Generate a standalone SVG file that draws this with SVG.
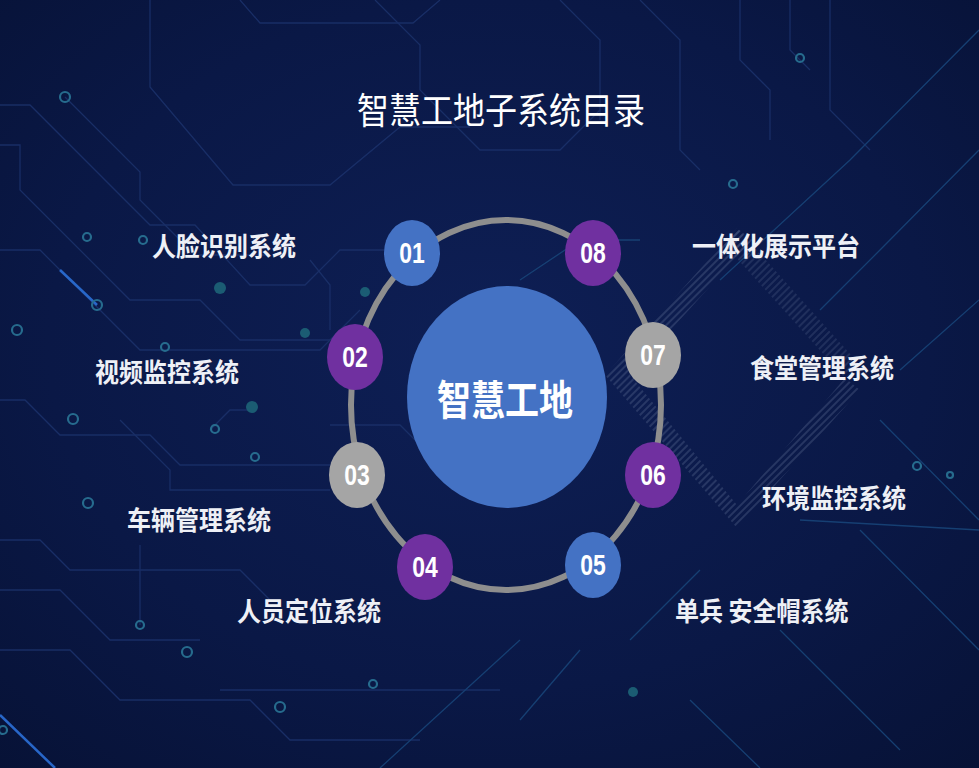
<svg xmlns="http://www.w3.org/2000/svg" width="979" height="768" viewBox="0 0 979 768">
<defs>
<radialGradient id="bg" cx="50%" cy="45%" r="75%">
<stop offset="0" stop-color="#0e1f55"/>
<stop offset="0.6" stop-color="#0a1846"/>
<stop offset="1" stop-color="#071236"/>
</radialGradient>
<linearGradient id="glow" x1="0" y1="0" x2="1" y2="0">
<stop offset="0" stop-color="#2b7fe0" stop-opacity="0"/>
<stop offset="0.5" stop-color="#3a8ff0" stop-opacity="0.9"/>
<stop offset="1" stop-color="#2b7fe0" stop-opacity="0.3"/>
</linearGradient>
<pattern id="hatch" width="5" height="5" patternUnits="userSpaceOnUse" patternTransform="rotate(45)">
<rect width="2" height="5" fill="#5a6a90"/>
</pattern>
<style>
.ckt{fill:none;stroke:#1b316a;stroke-width:1.3}
.ckt2{fill:none;stroke:#184478;stroke-width:1.3}
.glw{fill:none;stroke:url(#glow);stroke-width:3;stroke-linecap:round}
.dot{fill:none;stroke:#2a7596;stroke-width:2.2}
.dotf{fill:#1d6478}
.ring{fill:none;stroke:#8e8e8e;stroke-width:6}
.blue{fill:#4472c4}
.purple{fill:#7030a0}
.gray{fill:#a5a5a5}
.num{font-family:"Liberation Sans",Arial,sans-serif;font-weight:bold;font-size:28px;fill:#ffffff;text-anchor:middle}
.lbl{font-family:"Noto Sans CJK SC","Noto Sans CJK TC",sans-serif;font-weight:bold;font-size:24px;fill:#eef0f6}
.title{font-family:"Noto Sans CJK SC","Noto Sans CJK TC",sans-serif;font-weight:normal;font-size:32px;fill:#ffffff;text-anchor:middle}
.center{font-family:"Noto Sans CJK SC","Noto Sans CJK TC",sans-serif;font-weight:bold;font-size:34px;fill:#ffffff;text-anchor:middle}
</style>
</defs>
<rect width="979" height="768" fill="url(#bg)"/>
<g id="background-circuit" opacity="0.9">
<polyline class="ckt" points="150,0 150,87 233,185 330,185 400,127 470,127"/>
<polyline class="ckt" points="240,0 260,23 413,23 440,0"/>
<polyline class="ckt" points="0,105 30,105 150,225 195,225 250,285 305,285 340,250 420,250"/>
<polyline class="ckt" points="0,145 20,145 20,190 130,300 200,300 240,340 330,340"/>
<polyline class="ckt" points="0,250 40,250 140,350 320,350 360,310"/>
<polyline class="ckt" points="65,97 140,172 140,200 195,255 270,255"/>
<polyline class="ckt" points="375,0 420,45 420,90 480,150 560,150 600,110"/>
<polyline class="ckt" points="310,260 330,285 330,330"/>
<polyline class="ckt" points="0,400 25,400 60,435 150,435 180,465 330,465"/>
<polyline class="ckt" points="120,420 170,470 170,490 330,490"/>
<polyline class="ckt" points="0,540 40,540 70,570 240,570 270,600"/>
<polyline class="ckt" points="0,590 60,590 110,640 200,640"/>
<polyline class="ckt" points="0,650 70,650 120,700 250,700 290,740 420,740"/>
<polyline class="ckt" points="140,545 140,625"/>
<polyline class="ckt" points="210,430 230,410 250,410"/>
<polyline class="ckt" points="330,425 400,425 420,445"/>
<polyline class="ckt" points="220,690 500,690"/>
<polyline class="ckt" points="560,0 600,40 600,120"/>
<polyline class="ckt" points="640,0 680,40 680,150 700,170"/>
<polyline class="ckt" points="740,0 740,60 770,90 770,140"/>
<polyline class="ckt" points="790,0 790,50 810,70"/>
<polyline class="ckt" points="830,0 830,110 870,150"/>
<polyline class="ckt2" points="979,30 850,160 720,280"/>
<polyline class="ckt2" points="979,150 880,250 820,310"/>
<polyline class="ckt2" points="979,300 900,370"/>
<polyline class="ckt2" points="880,420 979,520"/>
<polyline class="ckt2" points="860,530 979,650"/>
<polyline class="ckt2" points="780,630 900,750"/>
<polyline class="ckt2" points="690,700 760,768"/>
<polyline class="ckt2" points="800,520 979,530"/>
<polyline class="ckt2" points="520,720 580,650"/>
<polyline class="ckt2" points="380,768 520,640"/>
<polyline class="ckt2" points="630,640 700,570"/>
<polyline class="ckt2" points="520,280 580,240 640,240"/>
<polyline class="ckt2" points="0,715 55,768" style="stroke:#2c70d8;stroke-width:2.5"/>
<polyline class="ckt2" points="60,270 97,305" style="stroke:#2c70d8;stroke-width:2.5"/>
<line class="glw" x1="0" y1="503" x2="88" y2="503"/>
<line class="glw" x1="175" y1="457" x2="255" y2="457"/>
<line class="glw" x1="166" y1="601" x2="233" y2="601"/>
<line class="glw" x1="110" y1="652" x2="185" y2="652"/>
<line class="glw" x1="200" y1="707" x2="280" y2="707"/>
<line class="glw" x1="240" y1="185" x2="330" y2="185"/>
<line class="glw" x1="20" y1="330" x2="90" y2="330"/>
<circle class="dot" cx="65" cy="97" r="5"/>
<circle class="dot" cx="143" cy="240" r="4"/>
<circle class="dot" cx="87" cy="237" r="4"/>
<circle class="dot" cx="97" cy="305" r="5"/>
<circle class="dot" cx="17" cy="330" r="5"/>
<circle class="dot" cx="165" cy="347" r="4"/>
<circle class="dotf" cx="220" cy="288" r="6"/>
<circle class="dotf" cx="365" cy="292" r="5"/>
<circle class="dotf" cx="305" cy="333" r="5"/>
<circle class="dot" cx="73" cy="419" r="5"/>
<circle class="dot" cx="88" cy="503" r="5"/>
<circle class="dot" cx="255" cy="457" r="4"/>
<circle class="dot" cx="140" cy="625" r="4"/>
<circle class="dot" cx="187" cy="652" r="5"/>
<circle class="dot" cx="280" cy="707" r="5"/>
<circle class="dot" cx="373" cy="684" r="4"/>
<circle class="dotf" cx="252" cy="407" r="6"/>
<circle class="dot" cx="215" cy="429" r="4"/>
<circle class="dot" cx="3" cy="730" r="4"/>
<circle class="dot" cx="800" cy="58" r="4"/>
<circle class="dot" cx="733" cy="184" r="4"/>
<circle class="dot" cx="917" cy="466" r="4"/>
<circle class="dot" cx="950" cy="475" r="3"/>
<circle class="dotf" cx="633" cy="692" r="5"/>
<polygon points="737,228 752,240 630,375 737,505 845,378 860,390 737,528 605,375" fill="url(#hatch)" opacity="0.4"/>
<polygon points="737,228 722,242 845,378 860,365" fill="url(#hatch)" opacity="0.3"/>
</g>
<text class="title" transform="translate(501,124) scale(1,1.15)">智慧工地子系统目录</text>
<g id="connectors">
<ellipse class="ring" cx="506" cy="405" rx="155" ry="185"/>
</g>
<g id="hub">
<ellipse class="blue" cx="507" cy="397" rx="100" ry="111"/>
<text class="center" transform="translate(505,415) scale(1,1.2)">智慧工地</text>
</g>
<g id="node-01"><ellipse class="blue" cx="412" cy="253" rx="28" ry="33"/><text class="num" transform="translate(412,263) scale(0.82,1.05)">01</text></g>
<g id="node-02"><ellipse class="purple" cx="355" cy="357" rx="28" ry="33"/><text class="num" transform="translate(355,367) scale(0.82,1.05)">02</text></g>
<g id="node-03"><ellipse class="gray" cx="357" cy="475" rx="28" ry="33"/><text class="num" transform="translate(357,485) scale(0.82,1.05)">03</text></g>
<g id="node-04"><ellipse class="purple" cx="425" cy="567" rx="28" ry="33"/><text class="num" transform="translate(425,577) scale(0.82,1.05)">04</text></g>
<g id="node-05"><ellipse class="blue" cx="593" cy="565" rx="28" ry="33"/><text class="num" transform="translate(593,575) scale(0.82,1.05)">05</text></g>
<g id="node-06"><ellipse class="purple" cx="653" cy="475" rx="28" ry="33"/><text class="num" transform="translate(653,485) scale(0.82,1.05)">06</text></g>
<g id="node-07"><ellipse class="gray" cx="653" cy="355" rx="28" ry="33"/><text class="num" transform="translate(653,365) scale(0.82,1.05)">07</text></g>
<g id="node-08"><ellipse class="purple" cx="593" cy="253" rx="28" ry="33"/><text class="num" transform="translate(593,263) scale(0.82,1.05)">08</text></g>
<g id="labels">
<text class="lbl" transform="translate(152,256) scale(1,1.1)">人脸识别系统</text>
<text class="lbl" transform="translate(95,382) scale(1,1.1)">视频监控系统</text>
<text class="lbl" transform="translate(127,530) scale(1,1.1)">车辆管理系统</text>
<text class="lbl" transform="translate(237,621) scale(1,1.1)">人员定位系统</text>
<text class="lbl" transform="translate(692,256) scale(1,1.1)">一体化展示平台</text>
<text class="lbl" transform="translate(750,378) scale(1,1.1)">食堂管理系统</text>
<text class="lbl" transform="translate(762,508) scale(1,1.1)">环境监控系统</text>
<text class="lbl" transform="translate(675,621) scale(1,1.1)">单兵 安全帽系统</text>
</g>
</svg>
